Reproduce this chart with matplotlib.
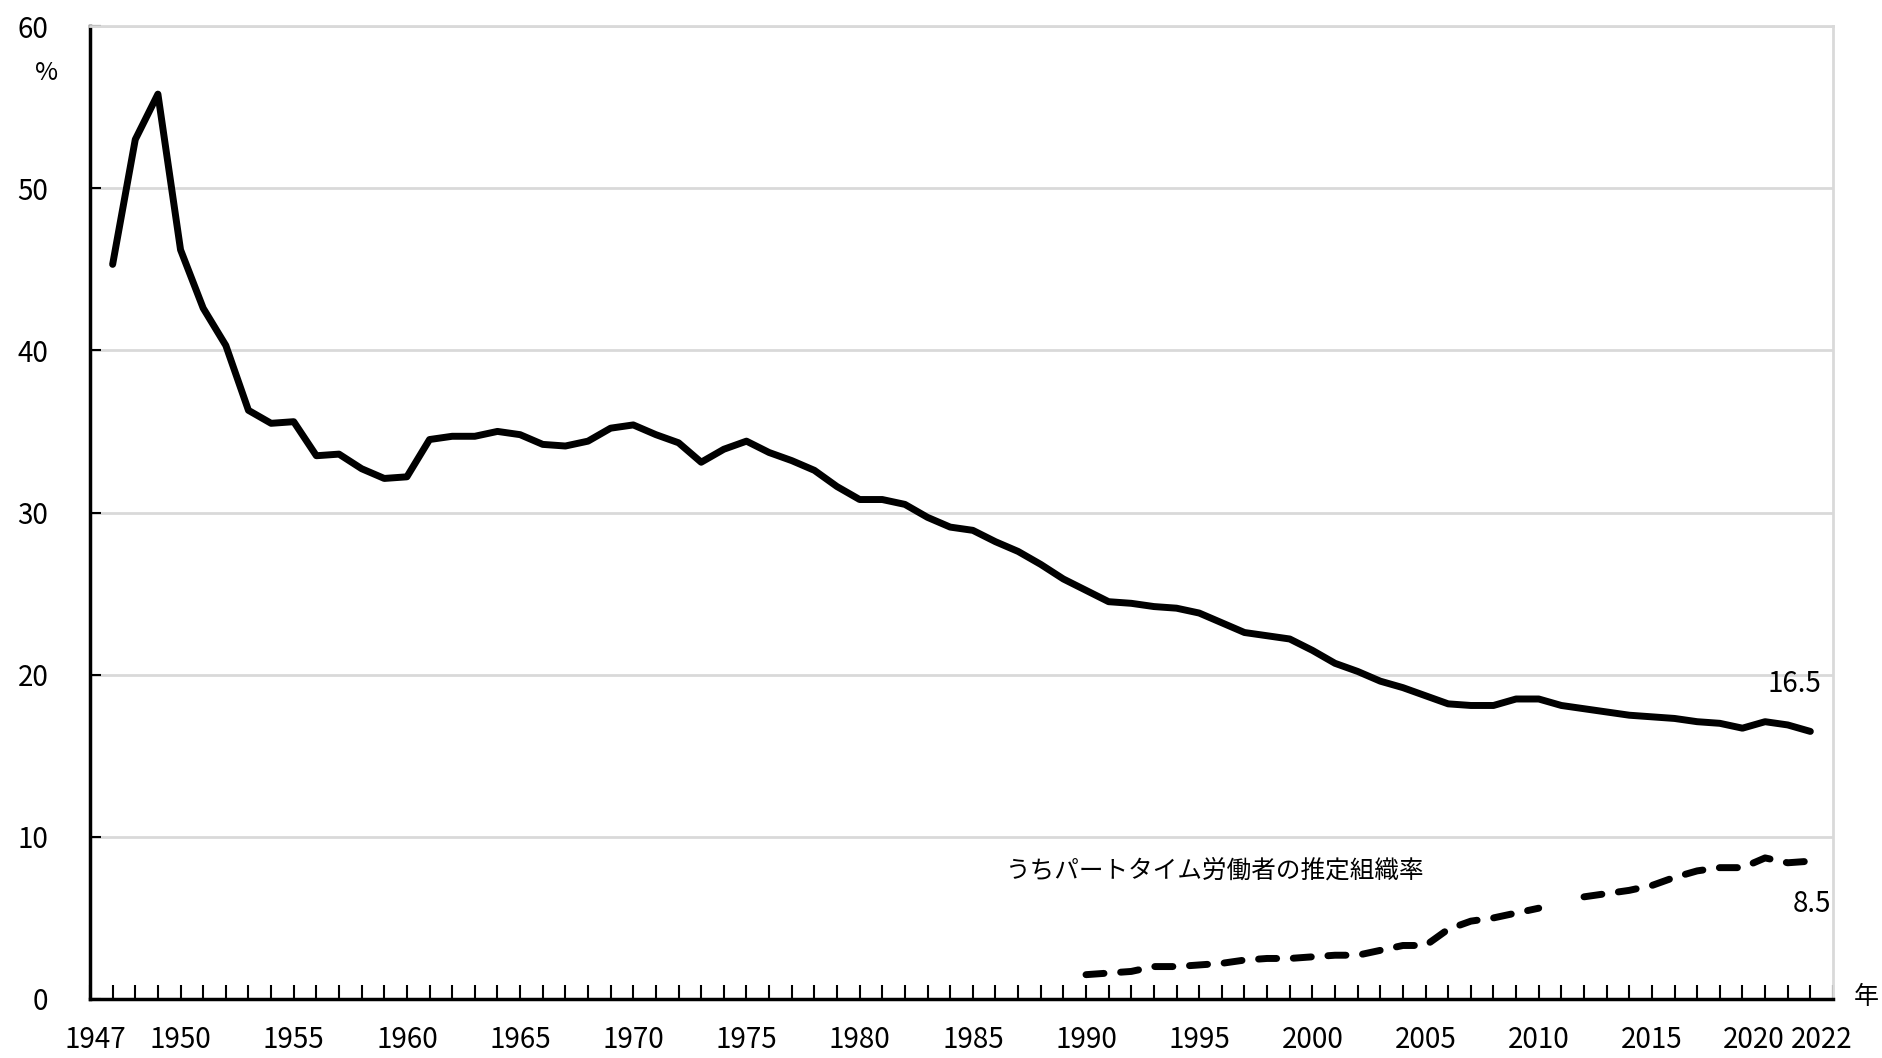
import numpy as np
import matplotlib
matplotlib.use("Agg")
import matplotlib.pyplot as plt
import matplotlib.transforms as mtransforms

plt.rcParams['font.family'] = ['Noto Sans CJK JP', 'DejaVu Sans']

years = list(range(1947, 2023))
density = [45.3, 53.0, 55.8, 46.2, 42.6, 40.3, 36.3, 35.5, 35.6, 33.5,
           33.6, 32.7, 32.1, 32.2, 34.5, 34.7, 34.7, 35.0, 34.8, 34.2,
           34.1, 34.4, 35.2, 35.4, 34.8, 34.3, 33.1, 33.9, 34.4, 33.7,
           33.2, 32.6, 31.6, 30.8, 30.8, 30.5, 29.7, 29.1, 28.9, 28.2,
           27.6, 26.8, 25.9, 25.2, 24.5, 24.4, 24.2, 24.1, 23.8, 23.2,
           22.6, 22.4, 22.2, 21.5, 20.7, 20.2, 19.6, 19.2, 18.7, 18.2,
           18.1, 18.1, 18.5, 18.5, 18.1, 17.9, 17.7, 17.5, 17.4, 17.3,
           17.1, 17.0, 16.7, 17.1, 16.9, 16.5]

pt_years = list(range(1990, 2023))
parttime = [1.5, 1.6, 1.7, 2.0, 2.0, 2.1, 2.2, 2.4, 2.5, 2.5,
            2.6, 2.7, 2.7, 3.0, 3.3, 3.3, 4.3, 4.8, 5.0, 5.3,
            5.6, np.nan, 6.3, 6.5, 6.7, 7.0, 7.5, 7.9, 8.1, 8.1,
            8.7, 8.4, 8.5]

xtick_labels = [1947, 1950, 1955, 1960, 1965, 1970, 1975, 1980, 1985,
                1990, 1995, 2000, 2005, 2010, 2015, 2020, 2022]
yticks = [0, 10, 20, 30, 40, 50, 60]

W, H = 1883, 1058
fig = plt.figure(figsize=(W / 100, H / 100), dpi=100)
ax = fig.add_axes([90 / W, 59 / H, (1833 - 90) / W, (999 - 26) / H])

ax.plot(years, density, color='black', lw=5, solid_capstyle='round',
        solid_joinstyle='round', zorder=3)
ax.plot(pt_years, parttime, color='black', lw=5,
        linestyle=(0, (2.6, 2.4)), dash_capstyle='round',
        dash_joinstyle='round', zorder=3)

ax.set_xlim(1946, 2023)
ax.set_ylim(0, 60)
ax.set_yticks(yticks)
ax.yaxis.grid(True, color='#d9d9d9', lw=2)
ax.set_axisbelow(True)

ax.set_xticks(range(1946, 2024), minor=True)
ax.set_xticks(xtick_labels)
ax.set_xticklabels([str(v) for v in xtick_labels])

ax.tick_params(axis='x', which='both', direction='in', length=10, width=1.5,
               pad=19, labelsize=20, colors='black')
ax.tick_params(axis='y', which='major', direction='in', length=8, width=1.5,
               pad=30, labelsize=20)

for side in ['top', 'right']:
    ax.spines[side].set_color('#d9d9d9')
    ax.spines[side].set_linewidth(2)
for side in ['left', 'bottom']:
    ax.spines[side].set_color('black')
    ax.spines[side].set_linewidth(2.5)

# nudge crowded tick labels
offsets = {1947: -17, 2020: -11, 2022: 11}
for lab, val in zip(ax.get_xticklabels(), xtick_labels):
    if val in offsets:
        lab.set_transform(lab.get_transform() +
                          mtransforms.ScaledTranslation(offsets[val] / 100, 0, fig.dpi_scale_trans))

ax.text(1944.1, 57.1, '%', fontsize=18, ha='center', va='center', clip_on=False)
ax.text(2024.46, 0.1, '年', fontsize=18, ha='center', va='center', clip_on=False)
ax.text(2021.3, 19.4, '16.5', fontsize=20, ha='center', va='center')
ax.text(2022.07, 5.86, '8.5', fontsize=20, ha='center', va='center', clip_on=False)
ax.text(1986.47, 7.95, 'うちパートタイム労働者の推定組織率', fontsize=17.7,
        ha='left', va='center')

fig.savefig('out.png', dpi=100)
